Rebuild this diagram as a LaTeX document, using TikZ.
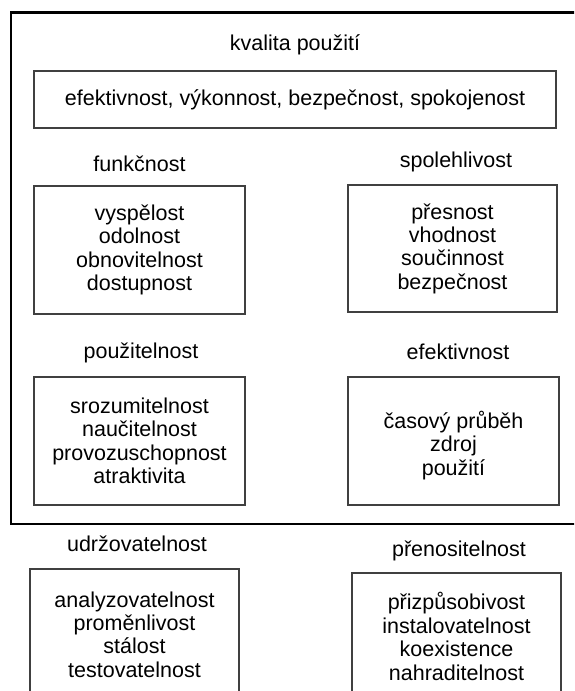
\documentclass[tikz,border=0pt]{standalone}
\usepackage{fontspec}
\setmainfont{Liberation Sans}
\newcommand\dfont{\fontsize{21.5}{23.4}\selectfont}
\begin{document}
\begin{tikzpicture}[x=1pt,y=-1pt,
  box/.style={draw=black!75, line width=1.4pt, align=center, inner sep=0pt, font=\dfont, text=black},
  lbl/.style={inner sep=0pt, font=\dfont, text=black},
  frame/.style={draw=black, line width=2.7pt}]
\useasboundingbox (0,0) rectangle (574,691);
\clip (0,0) rectangle (574,691);
\fill[white] (0,0) rectangle (574,691);
\draw[frame] (11,12.5) rectangle (600,524);
\node[lbl] (kval) at (295,45) {kvalita použití};
\node[box, minimum width=522pt, minimum height=57pt] (top) at (295,99.5) {efektivnost, výkonnost, bezpečnost, spokojenost};
\node[lbl] (lfun) at (139.5,164) {funkčnost};
\node[box, minimum width=211pt, minimum height=128pt] (fun) at (139.5,250) {vyspělost\\odolnost\\obnovitelnost\\dostupnost};
\node[lbl] (lspo) at (456,162) {spolehlivost};
\node[box, minimum width=209pt, minimum height=127pt] (spo) at (452.5,248.5) {přesnost\\vhodnost\\součinnost\\bezpečnost};
\node[lbl] (lpou) at (141,353) {použitelnost};
\node[box, minimum width=211pt, minimum height=128pt] (pou) at (139.5,441) {srozumitelnost\\naučitelnost\\provozuschopnost\\atraktivita};
\node[lbl] (lefe) at (458,352) {efektivnost};
\node[box, minimum width=211pt, minimum height=128pt] (efe) at (453.5,441) {};
\node[font=\dfont, align=center, inner sep=0pt] (efet) at (453.5,445.5) {časový průběh\\zdroj\\použití};
\node[lbl] (ludr) at (137,544) {udržovatelnost};
\node[box, minimum width=209pt, minimum height=131pt] (udr) at (134.5,634.5) {analyzovatelnost\\proměnlivost\\stálost\\testovatelnost};
\node[lbl] (lpre) at (459,551) {přenositelnost};
\node[box, minimum width=209pt, minimum height=127pt] (pre) at (456.5,636.5) {přizpůsobivost\\instalovatelnost\\koexistence\\nahraditelnost};
\end{tikzpicture}
\end{document}
